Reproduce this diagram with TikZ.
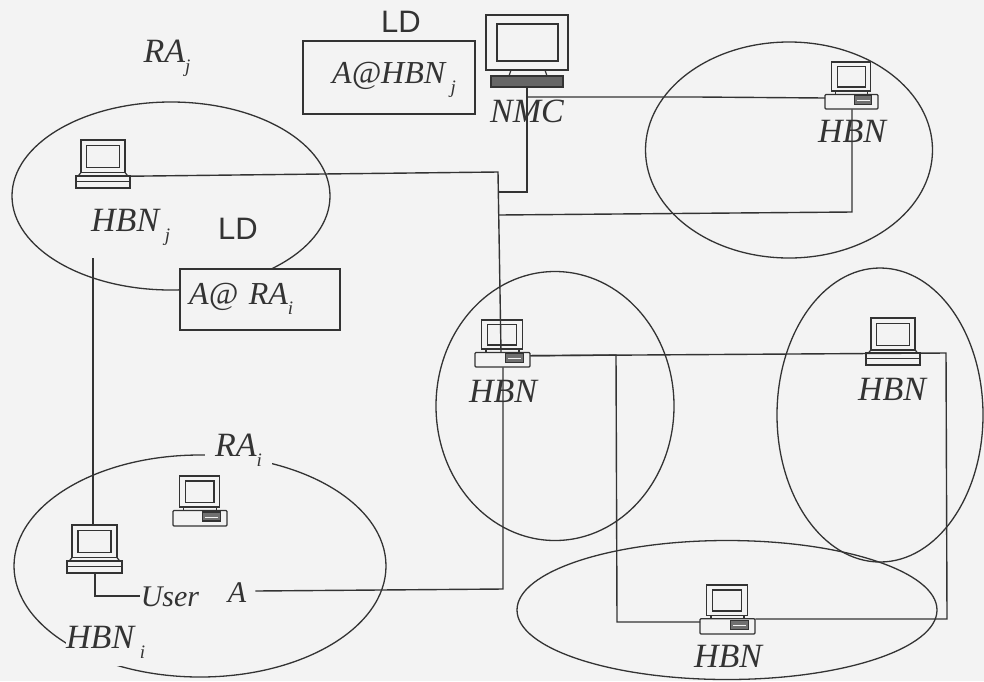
\documentclass[tikz,border=0pt]{standalone}
\usepackage{fontspec}
\setmainfont{Liberation Serif}
\newfontfamily\ldfont{Liberation Sans}
\usetikzlibrary{shapes.geometric,calc}
\definecolor{bg}{HTML}{F3F3F3}
\definecolor{ink}{HTML}{333333}
\newcommand{\subs}[1]{\raisebox{-0.3em}{\fontsize{19}{19}\selectfont #1}}
\tikzset{
  cloud/.style={ellipse,draw=ink,line width=1.3pt,inner sep=0pt},
  lnk/.style={draw=ink,line width=1.4pt},
  lab/.style={font=\fontsize{34}{36}\selectfont\itshape,text=ink,inner sep=1pt},
  labm/.style={font=\fontsize{32}{34}\selectfont\itshape,text=ink,inner sep=1pt},
  labs/.style={font=\fontsize{30}{32}\selectfont\itshape,text=ink,inner sep=1pt},
  ldlab/.style={font=\fontsize{31}{33}\selectfont\ldfont,text=ink,inner sep=0pt},
  tbl/.style={draw=ink,line width=1.5pt,fill=bg,inner sep=0pt,anchor=north west},
  pc/.style={draw=ink,line width=1.2pt},
  pcbox/.style={inner sep=0pt,anchor=north west}
}
% flat base computer: name, x, y, w, h
\newcommand{\flatpc}[5]{%
  \node[pcbox,minimum width=#4pt,minimum height=#5pt] (#1) at (#2,#3) {};
  \begin{scope}[shift={(#2,#3)},xscale=#4,yscale=#5]
    \draw[pc,line width=1.5pt] (.09,0) rectangle (.91,.68);
    \draw[pc] (.2,.12) rectangle (.8,.58);
    \draw[pc] (.09,.68) -- (.04,.75) -- (.96,.75) -- (.91,.68);
    \draw[pc,line width=1.6pt] (0,.75) rectangle (1,1);
    \draw[pc,line width=.9pt] (0,.87) -- (1,.87);
  \end{scope}}
% desktop base computer: name, x, y, w, h
\newcommand{\deskpc}[5]{%
  \node[pcbox,minimum width=#4pt,minimum height=#5pt] (#1) at (#2,#3) {};
  \begin{scope}[shift={(#2,#3)},xscale=#4,yscale=#5]
    \draw[pc,line width=1.5pt] (.12,0) rectangle (.86,.62);
    \draw[pc] (.23,.1) rectangle (.76,.53);
    \draw[pc] (.2,.62) -- (.2,.69) (.8,.62) -- (.8,.69);
    \draw[pc,rounded corners=1pt] (0,.69) rectangle (1,1);
    \draw[pc,fill=ink!70] (.55,.72) rectangle (.88,.9);
    \draw[pc,line width=.6pt,draw=bg] (.6,.82) -- (.84,.82);
  \end{scope}}
\begin{document}
\begin{tikzpicture}[x=1pt,y=-1pt]
\useasboundingbox (0,0) rectangle (984,681);
\fill[bg] (0,0) rectangle (984,681);

% areas
\node[cloud,minimum width=318pt,minimum height=188pt] (raj) at (171,196) {};
\node[cloud,minimum width=287pt,minimum height=216pt] (rat) at (789,150) {};
\node[cloud,minimum width=238pt,minimum height=269pt] (ram) at (555,406) {};
\node[cloud,minimum width=206pt,minimum height=294pt] (rar) at (880,415) {};
\node[cloud,minimum width=420pt,minimum height=139pt] (rab) at (727,610) {};
\node[cloud,minimum width=372pt,minimum height=222pt] (rai) at (200,566) {};

% computers
\flatpc{hj}{76}{140}{54}{48}
\flatpc{hr}{866}{318}{54}{47}
\flatpc{hu}{67}{525}{55}{48}
\deskpc{ht}{825}{62}{53}{47}
\deskpc{hm}{475}{320}{55}{47}
\deskpc{hb}{700}{585}{55}{49}
\deskpc{hi}{173}{476}{54}{50}
\node[pcbox,minimum width=82pt,minimum height=73pt] (nmc) at (486,15) {};
\draw[pc,line width=1.3pt] (486,15) rectangle (568,70);
\draw[pc,line width=2.6pt] (497,24) rectangle (558,61);
\draw[pc,fill=ink!75] (491,76) rectangle (563,87);
\draw[pc] (511,70) -- (509,76) (545,70) -- (547,76);

% boxes and labels
\node[tbl,minimum width=172pt,minimum height=73pt] (ldj) at (302,40) {};
\node[labm,anchor=west] at (331,80) {A@HBN\,\subs{j}};
\node[ldlab] at (401,22) {LD};
\node[tbl,minimum width=160pt,minimum height=61pt] (ldi) at (179,268) {};
\node[labm,anchor=west] at (188,299) {A@\,\,RA\subs{i}};
\node[ldlab] at (238,229) {LD};
\node[lab] at (167,58) {RA\subs{j}};
\node[lab,anchor=west] (hjl) at (90,227) {HBN\,\subs{j}};
\node[lab,fill=bg,inner sep=0pt,minimum width=67pt,minimum height=26pt] (rail) at (238.5,450) {RA\subs{i}};
\node[lab,fill=bg,inner sep=0pt,anchor=west,minimum height=48pt] (hil) at (66,642) {HBN\,\subs{i}};
\node[labs] (usr) at (170,597) {User};
\node[labs] (usa) at (237,593) {A};
\node[lab] (nmcl) at (527,111) {NMC};
\node[lab] at (852,131) {HBN};
\node[lab] at (503,391) {HBN};
\node[lab] at (892,389) {HBN};
\node[lab] at (728,656) {HBN};

% junctions
\coordinate (j1) at (498,172);
\coordinate (j2) at (501,352);
\coordinate (j3) at (503,589);
\coordinate (j4) at (527,192);
\coordinate (j5) at (499,192);
\coordinate (j6) at (499,215);
\coordinate (j7) at (852,212);
\coordinate (j8) at (616,355);
\coordinate (j9) at (617,622);
\coordinate (j10) at (946,353);
\coordinate (j11) at (947,619);
\coordinate (j12) at (95,596);
\coordinate (j13) at (93,258);

% connectors
\draw[lnk] ([yshift=-12pt]hj.east) -- (j1) -- (j2);
\draw[lnk] (hm.south -| j3) -- (j3) -- ([xshift=8pt,yshift=2pt]usa.east);
\draw[lnk] (nmc.south -| j4) -- (j4) -- (j5);
\draw[lnk] (j4 |- 0,97) -- (697,97) -- (ht.west |- 0,98);
\draw[lnk] (j6) -- (j7) -- (j7 |- ht.south);
\draw[lnk] ([yshift=-12pt]hm.east) -- (j8) -- (j9) -- (hb.west |- j9);
\draw[lnk] ([yshift=-12pt]hm.east) -- (j10) -- (j11) -- (hb.east |- j11);
\draw[lnk] (j13) -- (hu.north -| j13);
\draw[lnk] (hu.south -| j12) -- (j12) -- (usr.west |- j12);
\end{tikzpicture}
\end{document}
